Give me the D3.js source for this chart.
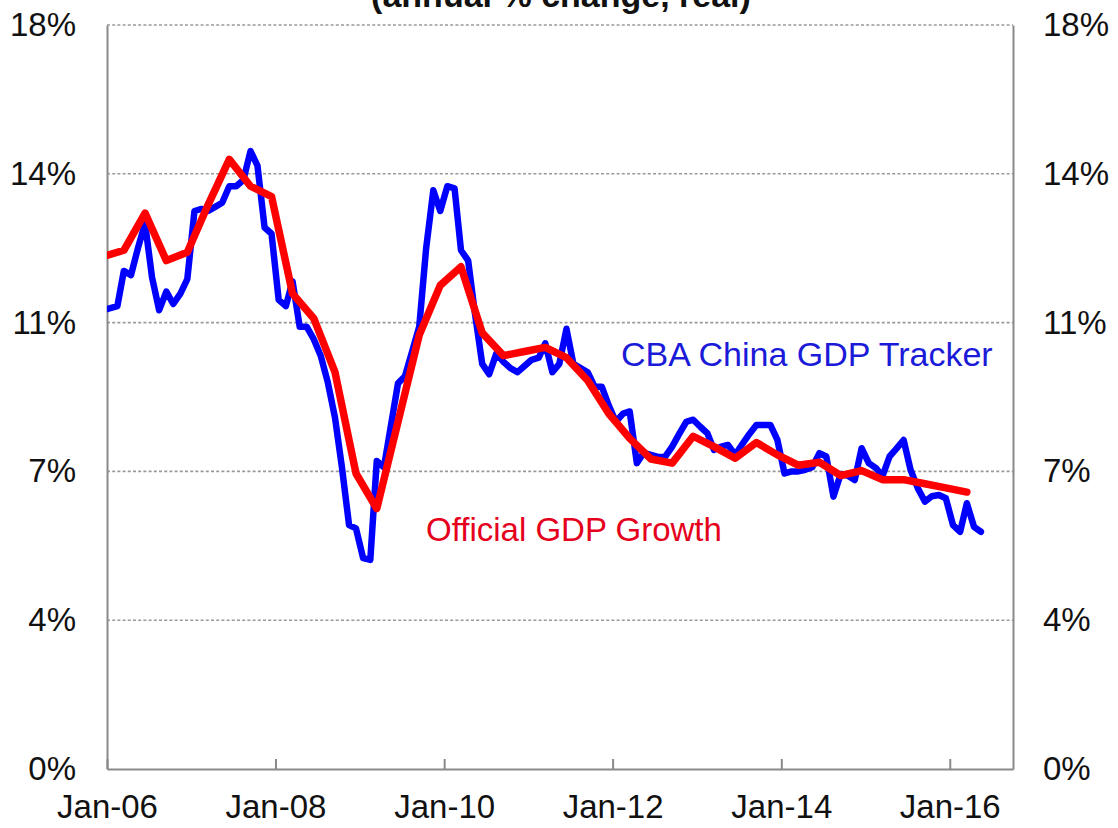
<!DOCTYPE html>
<html>
<head>
<meta charset="utf-8">
<script src="https://cdn.jsdelivr.net/npm/d3@7"></script>
<style>
  html, body { margin: 0; padding: 0; background: #fff; }
  svg { display: block; font-family: "Liberation Sans", Arial, sans-serif; }
</style>
</head>
<body>
<svg id="chart" width="1118" height="828"></svg>
<script>
// ---------- DATA ----------
const titleText = "(annual % change, real)";
const trackerLabel = "CBA China GDP Tracker";
const officialLabel = "Official GDP Growth";

// y-axis ticks (the chart uses 18/5 steps, labels rounded)
const yTickValues = [0, 3.6, 7.2, 10.8, 14.4, 18];
const yTickLabels = ["0%", "4%", "7%", "11%", "14%", "18%"];

// x-axis ticks
const xTickDates = ["2006-01-01", "2008-01-01", "2010-01-01", "2012-01-01", "2014-01-01", "2016-01-01"];
const xTickLabels = ["Jan-06", "Jan-08", "Jan-10", "Jan-12", "Jan-14", "Jan-16"];
const xDomain = ["2006-01-01", "2016-10-01"];

// CBA China GDP Tracker, monthly (Dec-05 .. May-16), % y/y
const trackerStart = "2005-12-15";
const trackerValues = [
  11.1,
  11.15, 11.2, 12.05, 11.95, 12.6, 13.2, 11.9, 11.1, 11.55, 11.25, 11.5, 11.85,
  13.5, 13.55, 13.5, 13.6, 13.7, 14.1, 14.1, 14.25, 14.95, 14.6, 13.1, 12.95,
  11.35, 11.2, 11.8, 10.7, 10.7, 10.4, 10.0, 9.35, 8.5, 7.3, 5.9, 5.82,
  5.1, 5.06, 7.45, 7.3, 8.3, 9.33, 9.5, 10.1, 10.7, 12.6, 14.0, 13.5,
  14.1, 14.05, 12.55, 12.3, 11.0, 9.8, 9.55, 10.05, 9.85, 9.7, 9.6, 9.75,
  9.9, 9.95, 10.3, 9.6, 9.8, 10.65, 9.8, 9.7, 9.6, 9.25, 9.25, 8.8,
  8.4, 8.6, 8.65, 7.4, 7.65, 7.6, 7.55, 7.55, 7.8, 8.1, 8.4, 8.45,
  8.28, 8.12, 7.72, 7.8, 7.84, 7.6, 7.85, 8.1, 8.32, 8.32, 8.32, 7.96,
  7.15, 7.2, 7.2, 7.24, 7.3, 7.64, 7.56, 6.59, 7.13, 7.1, 6.99, 7.76,
  7.4, 7.28, 7.08, 7.56, 7.75, 7.96, 7.24, 6.8, 6.47, 6.6, 6.63, 6.55,
  5.9, 5.74, 6.43, 5.86, 5.74
];

// Official GDP growth, quarterly (Q4-05 .. Q1-16), % y/y
const officialStart = "2005-12-15";
const officialValues = [
  12.4,
  12.55, 13.45, 12.3, 12.5,
  13.65, 14.75, 14.1, 13.85,
  11.5, 10.9, 9.6, 7.15,
  6.3, 8.4, 10.5, 11.7,
  12.15, 10.55, 10.0, 10.1,
  10.2, 9.95, 9.4, 8.6,
  8.0, 7.5, 7.4, 8.05,
  7.8, 7.52, 7.9, 7.6,
  7.35, 7.42, 7.1, 7.22,
  7.0, 7.0, 6.9, 6.8,
  6.7
];

// ---------- BUILD ----------
const parse = d3.timeParse("%Y-%m-%d");
const trackerData = trackerValues.map((v, i) => ({ date: d3.timeMonth.offset(parse(trackerStart), i), value: v }));
const officialData = officialValues.map((v, i) => ({ date: d3.timeMonth.offset(parse(officialStart), 3 * i), value: v }));

const plot = { left: 107, right: 1013, top: 25, bottom: 769 };

const svg = d3.select("#chart");

const x = d3.scaleTime().domain(xDomain.map(parse)).range([plot.left, plot.right]);
const y = d3.scaleLinear().domain([0, 18]).range([plot.bottom, plot.top]);

svg.append("defs").append("clipPath").attr("id", "clip")
  .append("rect")
  .attr("x", plot.left).attr("y", plot.top - 10)
  .attr("width", plot.right - plot.left).attr("height", plot.bottom - plot.top + 10);

// Title (partially cropped at the top edge, as in the reference)
svg.append("text")
  .attr("x", 561).attr("y", 7)
  .attr("text-anchor", "middle")
  .attr("font-weight", "bold")
  .attr("font-size", 34)
  .attr("fill", "#111")
  .text(titleText);

// Gridlines
svg.append("g")
  .selectAll("line")
  .data(yTickValues.filter(v => v > 0))
  .join("line")
  .attr("x1", plot.left).attr("x2", plot.right)
  .attr("y1", d => y(d)).attr("y2", d => y(d))
  .attr("stroke", "#9a9a9a")
  .attr("stroke-width", 1.6)
  .attr("stroke-dasharray", "3,2.2");

const fontFam = '"Liberation Sans", Arial, sans-serif';

// Left axis labels
const yFmt = d => yTickLabels[yTickValues.indexOf(d)];
const leftAxis = d3.axisLeft(y).tickValues(yTickValues).tickFormat(yFmt).tickSize(0).tickPadding(31);
const gl = svg.append("g").attr("transform", `translate(${plot.left},0)`).call(leftAxis);
gl.select(".domain").attr("stroke", "#8a8a8a").attr("stroke-width", 2);
gl.selectAll("text").attr("font-size", 33).attr("fill", "#111").attr("font-family", fontFam);

const rightAxis = d3.axisRight(y).tickValues(yTickValues).tickFormat(yFmt).tickSize(0).tickPadding(30);
const gr = svg.append("g").attr("transform", `translate(${plot.right},0)`).call(rightAxis);
gr.select(".domain").attr("stroke", "#8a8a8a").attr("stroke-width", 2);
gr.selectAll("text").attr("font-size", 33).attr("fill", "#111").attr("font-family", fontFam);

// Bottom axis
const xLabelMap = new Map(xTickDates.map((d, i) => [+parse(d), xTickLabels[i]]));
const bottomAxis = d3.axisBottom(x)
  .tickValues(xTickDates.map(parse))
  .tickFormat(d => xLabelMap.get(+d))
  .tickSizeInner(-10).tickSizeOuter(0).tickPadding(26);
const gb = svg.append("g").attr("transform", `translate(0,${plot.bottom})`).call(bottomAxis);
gb.select(".domain").attr("stroke", "#8a8a8a").attr("stroke-width", 2);
gb.selectAll(".tick line").attr("stroke", "#8a8a8a").attr("stroke-width", 2);
gb.selectAll("text").attr("font-size", 33).attr("fill", "#111").attr("font-family", fontFam);

// Lines
const line = d3.line().x(d => x(d.date)).y(d => y(d.value));
const lines = svg.append("g").attr("clip-path", "url(#clip)");
lines.append("path")
  .datum(trackerData)
  .attr("d", line)
  .attr("fill", "none")
  .attr("stroke", "#0000ff")
  .attr("stroke-width", 6.5)
  .attr("stroke-linejoin", "round")
  .attr("stroke-linecap", "round");
lines.append("path")
  .datum(officialData)
  .attr("d", line)
  .attr("fill", "none")
  .attr("stroke", "#ff0000")
  .attr("stroke-width", 7.5)
  .attr("stroke-linejoin", "round")
  .attr("stroke-linecap", "round");

// Series labels
svg.append("text")
  .attr("x", 621).attr("y", 366)
  .attr("font-size", 34)
  .attr("fill", "#1a1ad8")
  .text(trackerLabel);
svg.append("text")
  .attr("x", 426).attr("y", 541)
  .attr("font-size", 33)
  .attr("fill", "#e5001c")
  .text(officialLabel);
</script>
</body>
</html>
